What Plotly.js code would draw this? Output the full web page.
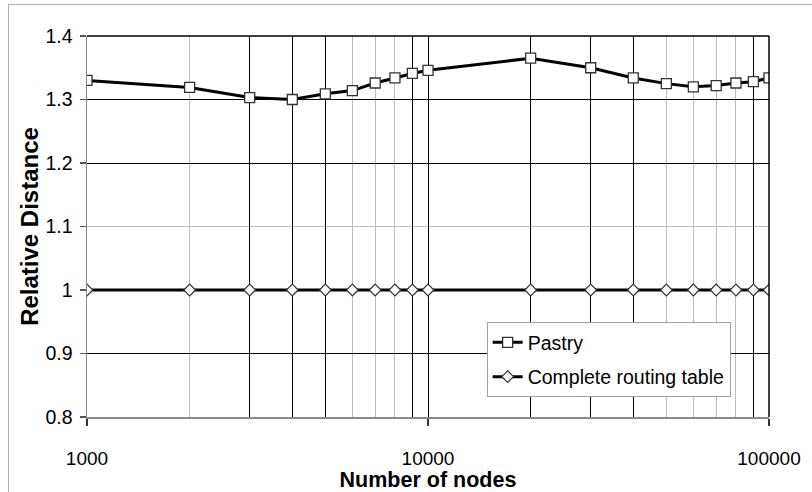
<!DOCTYPE html>
<html>
<head>
<meta charset="utf-8">
<script src="https://cdn.plot.ly/plotly-3.0.1.min.js"></script>
<style>
  html, body { margin: 0; padding: 0; background: #fff; overflow: hidden; }
  #wrap { position: relative; width: 812px; height: 492px; }
  #chart { position: absolute; left: 0; top: 0; width: 812px; height: 492px; }
  #frame { position: absolute; left: 8px; top: 4px; width: 900px; height: 600px;
           border-left: 1px solid #b0b0b0; border-top: 1px solid #b0b0b0; pointer-events: none; }
</style>
</head>
<body>
<div id="wrap"><div id="chart"></div><div id="frame"></div></div>
<script>
// ---- data ----
const nodes = [1000, 2000, 3000, 4000, 5000, 6000, 7000, 8000, 9000, 10000,
               20000, 30000, 40000, 50000, 60000, 70000, 80000, 90000, 100000];
const pastry = [1.330, 1.319, 1.303, 1.300, 1.309, 1.314, 1.326, 1.334, 1.341, 1.346,
                1.365, 1.350, 1.334, 1.325, 1.320, 1.322, 1.326, 1.328, 1.334];
const complete = [1, 1, 1, 1, 1, 1, 1, 1, 1, 1, 1, 1, 1, 1, 1, 1, 1, 1, 1];
const seriesNames = ["Pastry", "Complete routing table"];

const xTickVals = [1000, 10000, 100000];
const xTickText = ["1000", "10000", "100000"];
const xDarkGrid = [3000, 4000, 5000, 9000, 10000, 20000, 30000, 40000, 90000];
const xLightGrid = [2000, 6000, 7000, 8000, 50000, 60000, 70000, 80000];
const yTickVals = [0.8, 0.9, 1.0, 1.1, 1.2, 1.3, 1.4];
const yTickText = ["0.8", "0.9", "1", "1.1", "1.2", "1.3", "1.4"];
const yDarkGrid = [0.9, 1.2, 1.3];
const yLightGrid = [1.1];

const FONT = "Liberation Sans, Arial, Helvetica, sans-serif";

const traces = [
  {
    x: nodes, y: complete, name: seriesNames[1], type: "scatter", mode: "lines+markers",
    xaxis: "x", yaxis: "y", legendgroup: "b", legendrank: 2,
    line: { color: "#000", width: 3 },
    marker: { symbol: "diamond", size: 9, color: "#fff", line: { color: "#333", width: 1.2 } }
  },
  {
    x: nodes, y: pastry, name: seriesNames[0], type: "scatter", mode: "lines+markers",
    xaxis: "x", yaxis: "y", legendgroup: "a", legendrank: 1,
    line: { color: "#000", width: 3 },
    marker: { symbol: "square", size: 10, color: "#fff", line: { color: "#333", width: 1.3 } }
  },
  // invisible copy that only carries the labelled overlay axes
  {
    x: nodes, y: complete, type: "scatter", mode: "lines", xaxis: "x2", yaxis: "y2",
    opacity: 0, showlegend: false, hoverinfo: "skip", line: { width: 0 }
  }
];

const range = [3, 5];
const layout = {
  width: 812, height: 492,
  margin: { l: 86.5, r: 42.5, t: 36, b: 75 },
  paper_bgcolor: "rgba(0,0,0,0)", plot_bgcolor: "#fff",
  font: { family: FONT, size: 19, color: "#000" },
  showlegend: true,
  legend: {
    x: 0.586, y: 0.249, xanchor: "left", yanchor: "top",
    bgcolor: "#fff", bordercolor: "#a0a0a0", borderwidth: 1,
    font: { family: FONT, size: 19.5, color: "#000" },
    traceorder: "grouped", tracegroupgap: 6, itemwidth: 30
  },
  // grid axis (x): dark & light grid lines
  xaxis: {
    type: "log", range: range, anchor: "y",
    tickmode: "array", tickvals: xDarkGrid, showticklabels: false, ticks: "",
    showgrid: true, gridcolor: "#000", gridwidth: 1,
    minor: { tickmode: "array", tickvals: xLightGrid, showgrid: true, gridcolor: "#bdbdbd", gridwidth: 1, ticks: "" },
    showline: false, zeroline: false
  },
  // label axis (x): ticks, tick labels, title, grey bottom line
  xaxis2: {
    type: "log", range: range, overlaying: "x", side: "bottom", anchor: "y2",
    tickmode: "array", tickvals: xTickVals, ticktext: xTickText,
    ticks: "outside", ticklen: 7, tickcolor: "#333", tickwidth: 1.3,
    ticklabelstandoff: 17,
    showgrid: false, showline: true, linecolor: "#8a8a8a", linewidth: 1.5, zeroline: false,
    tickfont: { family: FONT, size: 19, color: "#000" },
    title: { text: "Number of nodes", standoff: 1, font: { family: FONT, size: 21.5, color: "#000", weight: "bold" } }
  },
  yaxis: {
    range: [0.8, 1.4], anchor: "x",
    tickmode: "array", tickvals: yDarkGrid, showticklabels: false, ticks: "",
    showgrid: true, gridcolor: "#000", gridwidth: 1,
    minor: { tickmode: "array", tickvals: yLightGrid, showgrid: true, gridcolor: "#bdbdbd", gridwidth: 1, ticks: "" },
    showline: false, zeroline: false
  },
  yaxis2: {
    range: [0.8, 1.4], overlaying: "y", side: "left", anchor: "x2",
    tickmode: "array", tickvals: yTickVals, ticktext: yTickText,
    ticks: "outside", ticklen: 6, tickcolor: "#555", tickwidth: 1.2,
    ticklabelstandoff: 3,
    showgrid: false, showline: true, linecolor: "#8a8a8a", linewidth: 1.5, zeroline: false,
    tickfont: { family: FONT, size: 19.5, color: "#000" },
    title: { text: "Relative Distance", standoff: 0, font: { family: FONT, size: 24, color: "#000", weight: "bold" } }
  },
  shapes: [
    { type: "line", xref: "paper", yref: "paper", x0: 0, x1: 1, y0: 1, y1: 1, line: { color: "#000", width: 1.5 }, layer: "above" },
    { type: "line", xref: "paper", yref: "paper", x0: 1, x1: 1, y0: 0, y1: 1, line: { color: "#000", width: 1.5 }, layer: "above" }
  ]
};

Plotly.newPlot("chart", traces, layout, { displayModeBar: false, staticPlot: true });
</script>
</body>
</html>
